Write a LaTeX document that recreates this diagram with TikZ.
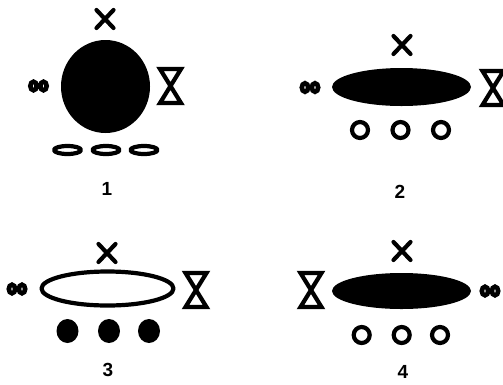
\documentclass[tikz,border=0pt]{standalone}
\usepackage{fontspec}
\setsansfont{Liberation Sans}
\begin{document}
\begin{tikzpicture}[x=1pt,y=-1pt,
  ink/.style={line width=4.2pt, line join=round, line cap=round},
  lab/.style={font=\sffamily\bfseries\fontsize{19}{23}\selectfont, inner sep=0pt},
  glass/.pic={\draw[ink, line join=miter, line cap=butt] (-10.5,-17) -- (10.5,-17) -- (-10.5,17) -- (10.5,17) -- cycle;},
  cross/.pic={\draw[ink] (-8.5,-9) -- (8.5,9) (8.5,-9) -- (-8.5,9);},
  infty/.pic={\draw[line width=4.6pt] (-5,0) ellipse[x radius=3.2pt, y radius=4.3pt]
                                     (5,0) ellipse[x radius=3.2pt, y radius=4.3pt];}
]
\useasboundingbox (0,0) rectangle (503,384);

% Panel 1
\pic at (105,19) {cross};
\fill (105.5,86.5) ellipse[x radius=44.5pt, y radius=46.5pt];
\pic at (38.5,86) {infty};
\pic at (170.5,86) {glass};
\foreach \cx in {67.5,106,144}
  \draw[ink] (\cx,150) ellipse[x radius=13.5pt, y radius=4pt];
\node[lab] (n1) at (107,189) {1};

% Panel 2
\pic at (402,45) {cross};
\fill (401.5,87) ellipse[x radius=69.5pt, y radius=19pt];
\pic at (310,87.5) {infty};
\pic at (493,88) {glass};
\foreach \cx in {360,400.5,441}
  \draw[ink] (\cx,130) circle[radius=8pt];
\node[lab] (n2) at (400,192) {2};

% Panel 3
\pic at (107,253) {cross};
\draw[ink] (107.5,288.5) ellipse[x radius=66pt, y radius=17pt];
\pic at (17,289) {infty};
\pic at (196,290) {glass};
\foreach \cx in {67.5,109,149}
  \fill (\cx,331) ellipse[x radius=11pt, y radius=12pt];
\node[lab] (n3) at (108,370) {3};

% Panel 4
\pic at (402,251) {cross};
\fill (401.5,291) ellipse[x radius=69.5pt, y radius=18pt];
\pic at (311,290) {glass};
\pic at (490,291) {infty};
\foreach \cx in {361.7,401.7,440}
  \draw[ink] (\cx,335) circle[radius=8pt];
\node[lab] (n4) at (403,372) {4};
\end{tikzpicture}
\end{document}
